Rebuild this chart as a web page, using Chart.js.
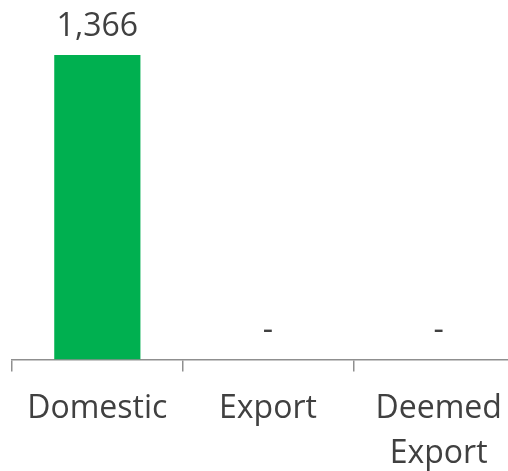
<!DOCTYPE html>
<html>
<head>
<meta charset="utf-8">
<script src="https://cdn.jsdelivr.net/npm/chart.js@4"></script>
<style>
  html, body { margin: 0; padding: 0; background: #fff; overflow: hidden; }
  #wrap { position: relative; width: 524px; height: 471px; }
</style>
</head>
<body>
<div id="wrap"><canvas id="salesChart"></canvas></div>
<script>
const categories = ["Domestic", "Export", "Deemed Export"];
const tickLabels = [["Domestic"], ["Export"], ["Deemed", "Export"]];
const salesValues = [1366, 0, 0];

const FONT = "'Open Sans', sans-serif";
const TEXT_COLOR = "#404040";

// value labels over each bar; zero shows as a dash
const barValueLabels = {
  id: "barValueLabels",
  afterDatasetsDraw(chart) {
    const ctx = chart.ctx;
    const meta = chart.getDatasetMeta(0);
    ctx.save();
    ctx.font = "32px " + FONT;
    ctx.fillStyle = TEXT_COLOR;
    ctx.textAlign = "center";
    ctx.textBaseline = "alphabetic";
    meta.data.forEach((bar, i) => {
      const v = chart.data.datasets[0].data[i];
      const text = v === 0 ? "-" : v.toLocaleString("en-US");
      ctx.fillText(text, bar.x, bar.y - 19);
    });
    ctx.restore();
  }
};

const ctx = document.getElementById("salesChart").getContext("2d");
new Chart(ctx, {
  type: "bar",
  data: {
    labels: categories,
    datasets: [
      {
        data: salesValues,
        backgroundColor: "#00B050",
        borderWidth: 0,
        categoryPercentage: 1,
        barPercentage: 0.505
      }
    ]
  },
  options: {
    responsive: true,
    maintainAspectRatio: false,
    animation: false,
    layout: { padding: { left: 12, right: 0, top: 3, bottom: -20 } },
    plugins: {
      legend: { display: false },
      tooltip: { enabled: false }
    },
    scales: {
      x: {
        grid: {
          offset: true,
          drawOnChartArea: false,
          drawTicks: true,
          tickLength: 12,
          color: "#8f8f8f",
          lineWidth: 1.5
        },
        border: { color: "#8f8f8f", width: 1.5 },
        ticks: {
          color: TEXT_COLOR,
          font: { family: FONT, size: 32, lineHeight: 1.4 },
          padding: 15,
          maxRotation: 0,
          autoSkip: false,
          callback: (val, i) => tickLabels[i]
        }
      },
      y: {
        display: false,
        min: 0,
        max: 1600
      }
    }
  },
  plugins: [barValueLabels]
});
</script>
</body>
</html>
